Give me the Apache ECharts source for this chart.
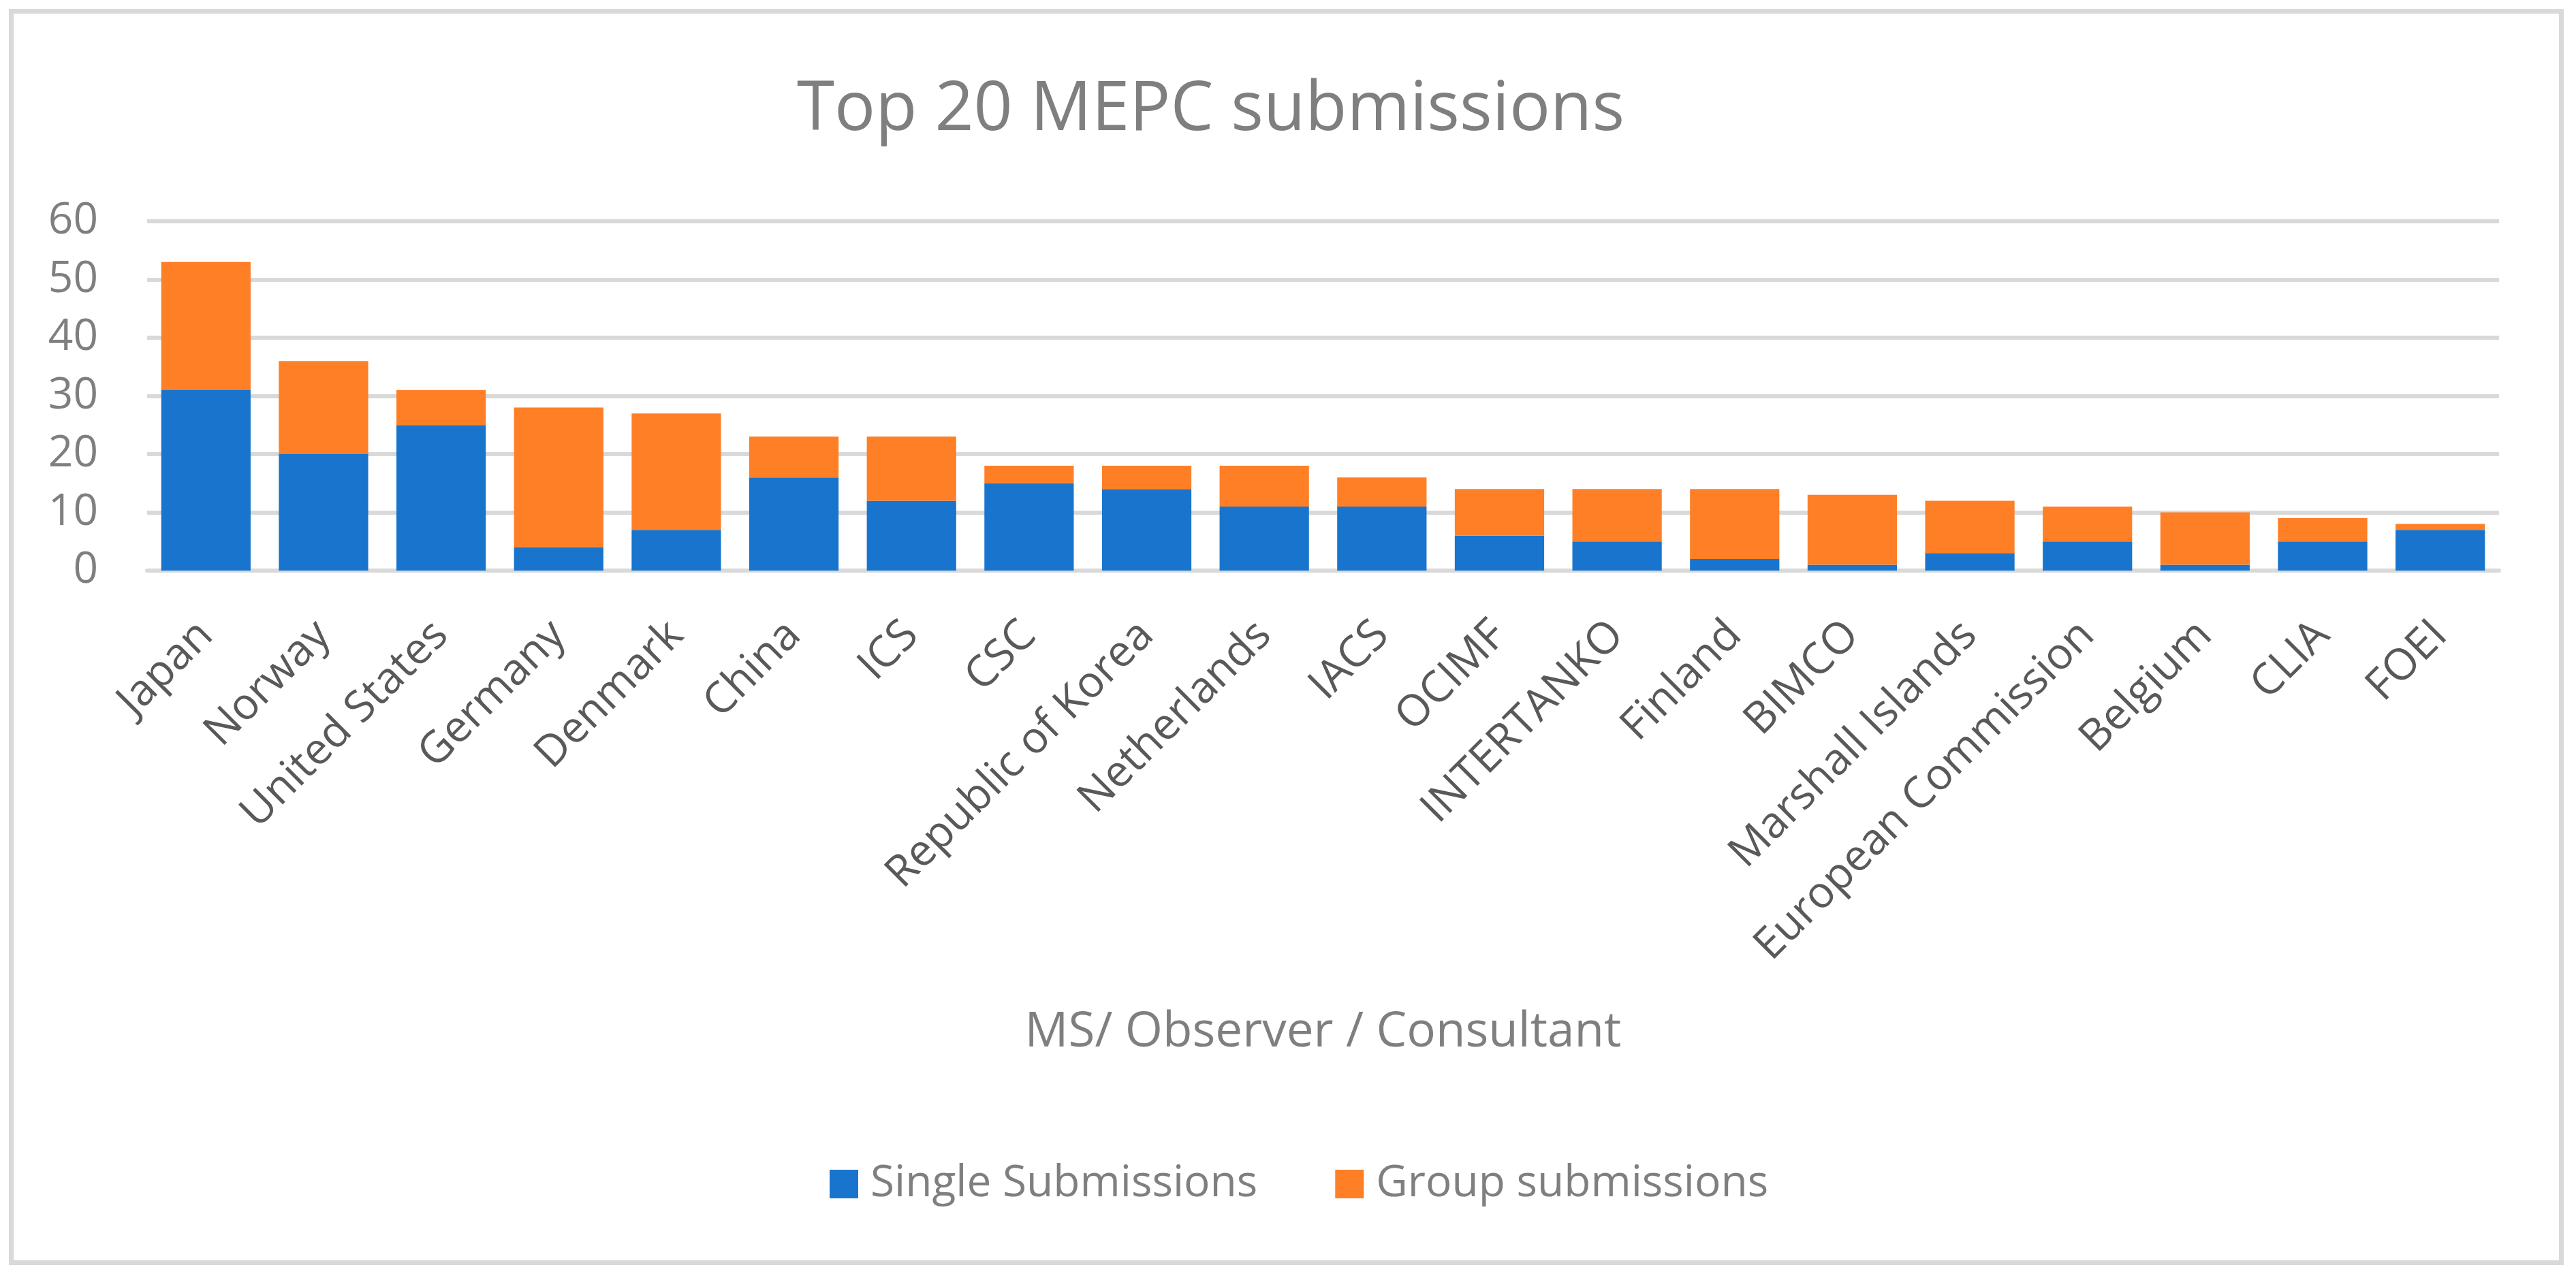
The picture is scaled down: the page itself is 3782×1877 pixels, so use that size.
<!DOCTYPE html>
<html>
<head>
<meta charset="utf-8">
<script src="https://cdn.jsdelivr.net/npm/echarts@6/dist/echarts.min.js"></script>
<style>
html,body{margin:0;padding:0;background:#fff;}
#chart{width:3782px;height:1877px;}
</style>
</head>
<body>
<div id="chart"></div>
<script>
const categories = ["Japan","Norway","United States","Germany","Denmark","China","ICS","CSC","Republic of Korea","Netherlands","IACS","OCIMF","INTERTANKO","Finland","BIMCO","Marshall Islands","European Commission","Belgium","CLIA","FOEI"];
const singleSubmissions = [31,20,25,4,7,16,12,15,14,11,11,6,5,2,1,3,5,1,5,7];
const groupSubmissions = [22,16,6,24,20,7,11,3,4,7,5,8,9,12,12,9,6,9,4,1];
const yTicks = [0,10,20,30,40,50,60];

const FONT = '"Open Sans", "Noto Sans", sans-serif';
const chart = echarts.init(document.getElementById('chart'), null, {renderer:'canvas'});
chart.setOption({
  animation: false,
  backgroundColor: '#ffffff',
  title: {
    text: 'Top 20 MEPC submissions',
    left: 1165, top: 108,
    textStyle: {fontFamily: FONT, fontSize: 100, fontWeight: 'normal', color: '#7f7f7f', lineHeight: 100}
  },
  legend: {
    left: 1213, top: 1702,
    itemWidth: 42, itemHeight: 42, itemGap: 114,
    icon: 'rect',
    textStyle: {fontFamily: FONT, fontSize: 64, color: '#7f7f7f', lineHeight: 64, padding: [0,0,0,13]},
    data: ['Single Submissions','Group submissions']
  },
  grid: {left: 216, right: 113, top: 325, bottom: 1039, containLabel: false},
  xAxis: {
    type: 'category',
    data: categories,
    name: 'MS/ Observer / Consultant',
    nameLocation: 'middle',
    nameGap: 643,
    nameTextStyle: {fontFamily: FONT, fontSize: 71, color: '#7f7f7f', lineHeight: 71},
    axisLine: {show: true, lineStyle: {color: '#d9d9d9', width: 6}},
    axisTick: {show: false},
    axisLabel: {rotate: 45, margin: 85, interval: 0, fontFamily: FONT, fontSize: 64, color: '#595959'}
  },
  yAxis: {
    type: 'value',
    min: yTicks[0], max: yTicks[yTicks.length-1], interval: 10,
    axisLine: {show: false},
    axisTick: {show: false},
    splitLine: {lineStyle: {color: '#d9d9d9', width: 6}},
    axisLabel: {margin: 72, fontFamily: FONT, fontSize: 64, color: '#7f7f7f'}
  },
  series: [
    {name: 'Single Submissions', type: 'bar', stack: 'total', data: singleSubmissions, barCategoryGap: '24%', itemStyle: {color: '#1874CD'}},
    {name: 'Group submissions', type: 'bar', stack: 'total', data: groupSubmissions, barCategoryGap: '24%', itemStyle: {color: '#FF7F27'}}
  ],
  graphic: [{
    type: 'rect', silent: true, z: 100,
    shape: {x: 16.5, y: 16.5, width: 3744, height: 1838},
    style: {fill: 'none', stroke: '#d9d9d9', lineWidth: 7}
  }]
});
</script>
</body>
</html>
